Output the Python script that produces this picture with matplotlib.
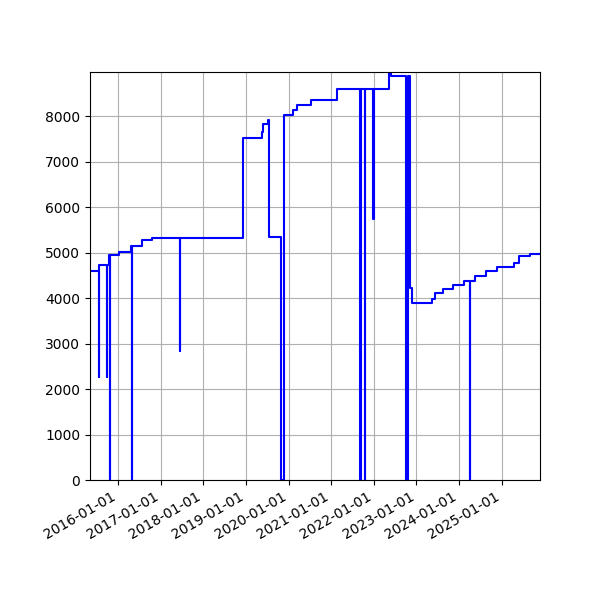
import matplotlib
matplotlib.use("Agg")
import matplotlib.pyplot as plt
import matplotlib.dates as mdates
import numpy as np
import pandas as pd

# change points of the series (value holds until next date)
dates = [
    "2015-05-04", "2015-07-20", "2015-07-21", "2015-09-24", "2015-09-25",
    "2015-10-18", "2015-10-22", "2015-10-23", "2016-01-04", "2016-04-23",
    "2016-04-30", "2016-05-01", "2016-07-19", "2016-10-13", "2017-06-17",
    "2017-06-18", "2018-12-02", "2019-05-14", "2019-05-24", "2019-06-03",
    "2019-07-09", "2019-07-15", "2019-10-24", "2019-11-21", "2020-02-09",
    "2020-03-09", "2020-07-07", "2021-02-15", "2021-09-08", "2021-09-09",
    "2021-10-19", "2021-10-20", "2021-12-29", "2021-12-30", "2022-05-12",
    "2022-05-26", "2022-10-07", "2022-10-19", "2022-11-05", "2022-11-26",
    "2023-05-18", "2023-06-07", "2023-08-17", "2023-11-11", "2024-02-13",
    "2024-04-05", "2024-04-06", "2024-05-15", "2024-08-17", "2024-11-22",
    "2025-04-14", "2025-05-27", "2025-08-29", "2025-11-26",
]
values = [
    4590, 2270, 4730, 2270, 4730,
    4950, 0, 4950, 5020, 5150,
    0, 5150, 5280, 5330, 2830,
    5330, 7515, 7650, 7820, 7825,
    7920, 5340, 0, 8030, 8140,
    8245, 8355, 8595, 0, 8595,
    0, 8595, 5735, 8595, 8968,
    8872, 0, 8872, 4230, 3880,
    3975, 4105, 4200, 4290, 4380,
    0, 4380, 4490, 4585, 4680,
    4780, 4930, 4970, 4970,
]

x = pd.to_datetime(dates)

fig = plt.figure(figsize=(6, 6), dpi=100)
ax = fig.add_axes([0.15, 0.2, 0.75, 0.68])
ax.plot(x, values, color="blue", linewidth=1.5, drawstyle="steps-post")

ax.set_xlim(x[0], x[-1])
ax.set_ylim(0, max(values))
ax.xaxis.set_major_locator(mdates.YearLocator())
ax.xaxis.set_major_formatter(mdates.DateFormatter("%Y-%m-%d"))
ax.grid(True)
for lbl in ax.get_xticklabels():
    lbl.set_rotation(30)
    lbl.set_ha("right")

fig.savefig("out.png")
